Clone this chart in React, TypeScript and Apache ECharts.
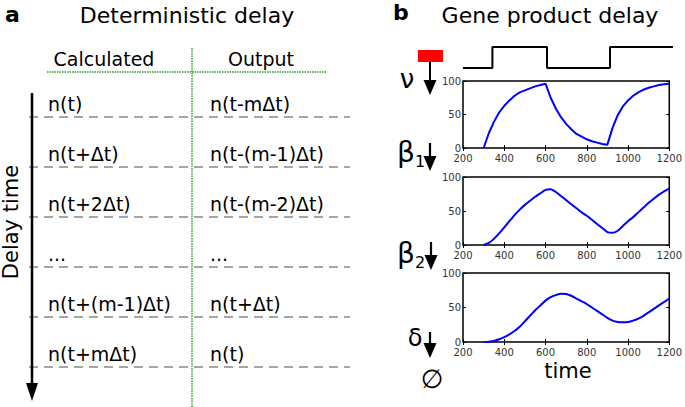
import React, { useEffect, useRef } from "react";
import * as echarts from "echarts";

// ---------- data ----------
const timeGrid = [300, 325, 350, 375, 400, 425, 450, 475, 500, 525, 550, 575, 600, 625, 650, 675, 700, 725, 750, 775, 800, 825, 850, 875, 900, 925, 950, 975, 1000, 1025, 1050, 1075, 1100, 1125, 1150, 1175, 1200];
const nuValues = [0, 22, 39, 53, 63, 71, 78, 83, 86, 89, 92, 94, 96, 75, 59, 46, 36, 28, 21, 17, 13, 10, 8, 6, 5, 30, 49, 62, 71, 78, 83, 87, 90, 92, 94, 95, 96];
const beta1Values = [0, 3, 9, 17, 26, 35, 44, 52, 59, 65, 71, 76, 81, 82, 78, 72, 66, 60, 54, 48, 43, 37, 31, 25, 19, 18, 21, 28, 35, 41, 48, 55, 62, 68, 74, 79, 83];
const beta2Values = [0, 0.5, 1.5, 4, 7, 11, 16, 22, 30, 38, 46, 53, 60, 65, 68, 70, 69.5, 67, 63, 59, 55, 50, 45, 40, 35, 31, 29, 28.5, 29, 31, 34, 38, 43, 48, 53, 58, 63];
const stepTimes = [200, 340, 600, 900, 1200];
const stepLevels = [0, 1, 0, 1, 1];
const xTicks = { min: 200, max: 1200, interval: 200 };
const yTicks = { min: 0, max: 100, interval: 50 };
const calculatedRows = ["n(t)", "n(t+Δt)", "n(t+2Δt)", "...", "n(t+(m-1)Δt)", "n(t+mΔt)"];
const outputRows = ["n(t-mΔt)", "n(t-(m-1)Δt)", "n(t-(m-2)Δt)", "...", "n(t+Δt)", "n(t)"];

const FONT = "DejaVu Sans";

export default function App() {
  const ref = useRef<HTMLDivElement>(null);
  useEffect(() => {
    if (!ref.current) return;
    const chart = echarts.init(ref.current, undefined, { renderer: "svg" });
    const grids = [
      { left: 463, top: 47, width: 210, height: 21 },
      { left: 463, top: 81, width: 210, height: 67 },
      { left: 463, top: 177, width: 210, height: 68 },
      { left: 463, top: 273, width: 210, height: 69 },
    ];
    const xAxes: any[] = [];
    const yAxes: any[] = [];
    xAxes.push({ type: "value", gridIndex: 0, min: 200, max: 1200, show: false });
    yAxes.push({ type: "value", gridIndex: 0, min: 0, max: 1, show: false });
    const tick = { inside: true, length: 3, lineStyle: { color: "#000", width: 1 } };
    for (let g = 1; g <= 3; g++) {
      xAxes.push({
        type: "value", gridIndex: g, position: "bottom", ...xTicks,
        axisLine: { show: false }, splitLine: { show: false }, axisTick: tick,
        axisLabel: { fontSize: 10, color: "#333", fontFamily: FONT, margin: 5, formatter: (v: number) => String(v) },
      });
      xAxes.push({
        type: "value", gridIndex: g, position: "top", ...xTicks,
        axisLine: { show: false }, splitLine: { show: false }, axisTick: tick,
        axisLabel: { show: false },
      });
      yAxes.push({
        type: "value", gridIndex: g, position: "left", ...yTicks,
        axisLine: { show: false }, splitLine: { show: false }, axisTick: tick,
        axisLabel: { fontSize: 10, color: "#333", fontFamily: FONT, margin: 2 },
      });
      yAxes.push({
        type: "value", gridIndex: g, position: "right", ...yTicks,
        axisLine: { show: false }, splitLine: { show: false }, axisTick: tick,
        axisLabel: { show: false },
      });
    }
    const mk = (vals: number[]) => timeGrid.map((t, i) => [t, vals[i]]);
    const lineSeries = (g: number, vals: number[], smooth: any) => ({
      type: "line", xAxisIndex: 1 + (g - 1) * 2, yAxisIndex: 1 + (g - 1) * 2,
      data: mk(vals), showSymbol: false, smooth,
      lineStyle: { color: "#0000ff", width: 2 }, itemStyle: { color: "#0000ff" },
    });

    const graphic: any[] = [];
    const txt = (text: string, x: number, y: number, size: number, extra: any = {}) =>
      graphic.push({
        type: "text", x, y, ...(extra.rotation ? { rotation: extra.rotation } : {}),
        style: { text, fontSize: size, fontFamily: FONT, fill: "#000", align: extra.align || "left", verticalAlign: "middle", fontWeight: extra.bold ? "bold" : "normal" },
      });
    const arrow = (x: number, y1: number, y2: number, headLen: number, headW: number, lw: number) => {
      graphic.push({ type: "line", shape: { x1: x, y1, x2: x, y2: y2 - headLen + 1 }, style: { stroke: "#000", lineWidth: lw } });
      graphic.push({ type: "polygon", shape: { points: [[x - headW / 2, y2 - headLen], [x + headW / 2, y2 - headLen], [x, y2]] }, style: { fill: "#000" } });
    };

    // ----- panel a -----
    txt("a", 5, 14, 22, { bold: true });
    txt("Deterministic delay", 187, 15, 22, { align: "center" });
    txt("Calculated", 104, 59, 19, { align: "center" });
    txt("Output", 261, 59, 19, { align: "center" });
    graphic.push({ type: "line", shape: { x1: 47, y1: 72, x2: 327, y2: 72 }, style: { stroke: "#22a022", lineWidth: 1.4, lineDash: [1.5, 1] } });
    graphic.push({ type: "line", shape: { x1: 192, y1: 48, x2: 192, y2: 407 }, style: { stroke: "#22a022", lineWidth: 1.4, lineDash: [1.5, 1] } });
    calculatedRows.forEach((r, i) => {
      const ly = 117 + i * 50;
      graphic.push({ type: "line", shape: { x1: 29, y1: ly, x2: 350, y2: ly }, style: { stroke: "#888", lineWidth: 1.6, lineDash: [9, 6] } });
      txt(r, 48, ly - 13, 19);
      txt(outputRows[i], 210, ly - 13, 19);
    });
    arrow(32, 93, 401, 18, 12, 2.5);
    txt("Delay time", 11, 222, 21, { align: "center", rotation: Math.PI / 2 });

    // ----- panel b -----
    txt("b", 393, 12, 22, { bold: true });
    txt("Gene product delay", 550, 15, 22, { align: "center" });
    graphic.push({ type: "rect", shape: { x: 418, y: 50, width: 25, height: 12 }, style: { fill: "#ff0000" } });
    arrow(430, 62, 95, 15, 13, 2);
    txt("ν", 407, 79, 26, { align: "center" });
    txt("β", 406, 152, 28, { align: "center" });
    txt("1", 420, 161, 16, { align: "center" });
    arrow(430, 143, 171, 15, 13, 2.2);
    txt("β", 406, 253, 28, { align: "center" });
    txt("2", 420, 262, 16, { align: "center" });
    arrow(431, 242, 270, 15, 13, 2.2);
    txt("δ", 415, 338, 24, { align: "center" });
    arrow(430, 332, 358, 15, 13, 2.2);
    txt("∅", 432, 379, 26, { align: "center" });
    txt("time", 568, 371, 21, { align: "center" });

    chart.setOption({
      animation: false,
      grid: grids.map((g, i) => ({ ...g, show: i > 0, borderColor: "#000", borderWidth: 1.5, backgroundColor: "transparent" })),
      xAxis: xAxes,
      yAxis: yAxes,
      series: [
        {
          type: "line", xAxisIndex: 0, yAxisIndex: 0, step: "end",
          data: stepTimes.map((t, i) => [t, stepLevels[i]]), showSymbol: false,
          lineStyle: { color: "#000", width: 2 }, clip: false,
        },
        lineSeries(1, nuValues, false),
        lineSeries(2, beta1Values, 0.2),
        lineSeries(3, beta2Values, 0.2),
      ],
      graphic,
    });
    return () => chart.dispose();
  }, []);
  return <div ref={ref} style={{ position: "fixed", left: 0, top: 0, width: 685, height: 407, background: "#fff" }} />;
}
